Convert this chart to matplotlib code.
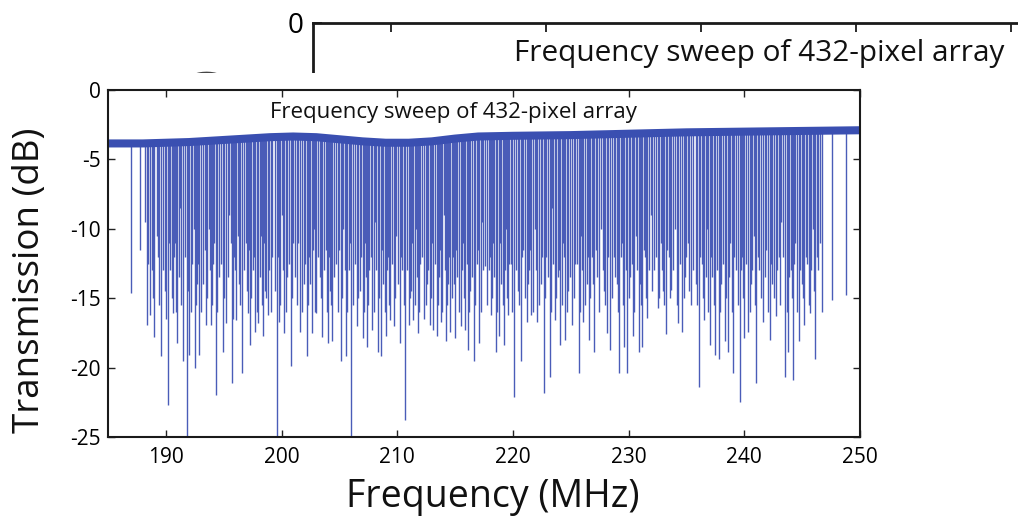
import numpy as np
import matplotlib.pyplot as plt
from matplotlib.patches import Rectangle

plt.rcParams['font.family'] = ['Open Sans', 'DejaVu Sans']
plt.rcParams['axes.unicode_minus'] = False

title = 'Frequency sweep of 432-pixel array'
xticks = [190, 200, 210, 220, 230, 240, 250]
yticks = [0, -5, -10, -15, -20, -25]

# off-resonance transmission level (centre of the noisy band)
base_freq = [185, 188, 192, 196, 199, 201, 203, 205, 207, 209, 211, 213, 215, 217, 220, 225, 230, 235, 240, 245, 250]
base_db = [-3.85, -3.85, -3.75, -3.55, -3.4, -3.35, -3.4, -3.55, -3.7, -3.8, -3.8, -3.7, -3.5, -3.35,
           -3.3, -3.25, -3.15, -3.05, -3.0, -2.95, -2.9]

# deeper resonance dips (MHz, dB at the bottom of each dip)
dip_freq = [187.0, 187.8, 188.2, 188.4, 188.6, 188.8, 189.0, 189.3, 189.6, 189.9,
            190.2, 190.4, 190.6, 190.8, 191.0, 191.2, 191.5, 191.8, 192.0, 192.3,
            192.5, 192.7, 192.9, 193.2, 193.5, 193.7, 193.9, 194.1, 194.3, 194.6,
            194.9, 195.2, 195.5, 195.7, 195.9, 196.1, 196.3, 196.6, 196.9, 197.1,
            197.3, 197.5, 197.7, 198.0, 198.2, 198.4, 198.6, 198.8, 199.2, 199.6,
            199.8, 200.0, 200.2, 200.5, 200.8, 201.0, 201.3, 201.6, 201.9, 202.2,
            202.4, 202.6, 202.8, 203.0, 203.3, 203.5, 203.8, 204.0, 204.2, 204.4,
            204.7, 205.1, 205.3, 205.6, 205.8, 206.0, 206.5, 206.8, 207.0, 207.2,
            207.4, 207.6, 207.8, 208.1, 208.3, 208.6, 208.8, 209.0, 209.2, 209.4,
            209.7, 209.9, 210.2, 210.4, 210.7, 211.0, 211.2, 211.4, 211.6, 211.8,
            212.0, 212.3, 212.6, 212.8, 213.0, 213.1, 213.4, 213.6, 213.8, 214.0,
            214.2, 214.4, 214.6, 214.8, 215.0, 215.2, 215.5, 215.7, 215.9, 216.1,
            216.3, 216.6, 216.9, 217.1, 217.3, 217.6, 217.9, 218.1, 218.3, 218.5,
            218.8, 219.0, 219.2, 219.4, 219.6, 219.8, 220.1, 220.4, 220.7, 220.9,
            221.2, 221.4, 221.6, 221.9, 222.1, 222.4, 222.7, 222.9, 223.2, 223.4,
            223.6, 223.9, 224.1, 224.3, 224.5, 224.8, 225.1, 225.4, 225.7, 225.9,
            226.1, 226.4, 226.6, 226.8, 227.0, 227.3, 227.6, 227.9, 228.1, 228.4,
            228.7, 229.0, 229.2, 229.4, 229.6, 229.9, 230.1, 230.4, 230.6, 230.9,
            231.0, 231.2, 231.4, 231.6, 231.9, 232.2, 232.5, 232.8, 233.0, 233.2,
            233.5, 233.7, 234.0, 234.3, 234.6, 234.9, 235.1, 235.4, 235.8, 236.1,
            236.3, 236.5, 236.8, 237.0, 237.2, 237.5, 237.8, 238.0, 238.3, 238.6,
            238.8, 239.0, 239.3, 239.6, 239.8, 240.0, 240.3, 240.6, 240.8, 241.0,
            241.3, 241.6, 241.9, 242.2, 242.4, 242.7, 243.0, 243.2, 243.5, 243.8,
            244.0, 244.2, 244.4, 244.7, 245.0, 245.2, 245.4, 245.7, 245.9, 246.1,
            246.4, 246.7, 247.6, 248.8]
dip_db = [-14.6, -11.5, -9.5, -16.9, -16.2, -13.0, -17.8, -12.0, -19.2, -14.5,
          -22.7, -13.0, -16.1, -11.0, -18.2, -8.5, -19.5, -25.0, -19.1, -12.5,
          -20.0, -14.0, -19.1, -14.0, -16.9, -10.0, -16.9, -12.5, -22.0, -13.5,
          -18.9, -16.8, -9.0, -21.1, -12.0, -16.6, -14.0, -20.4, -11.0, -16.1,
          -18.4, -13.0, -17.4, -16.8, -10.5, -17.7, -14.5, -16.2, -12.0, -25.0,
          -16.7, -9.0, -17.5, -13.5, -19.9, -11.0, -15.5, -17.4, -14.0, -19.2,
          -12.0, -17.5, -10.0, -16.1, -13.5, -17.8, -11.5, -18.2, -14.5, -18.1,
          -12.5, -19.5, -10.0, -19.2, -13.0, -25.0, -17.0, -14.5, -17.9, -11.0,
          -18.5, -13.0, -17.3, -9.5, -18.9, -19.2, -14.0, -17.7, -12.0, -16.6,
          -17.0, -10.5, -18.2, -13.0, -23.8, -16.9, -14.5, -16.6, -10.0, -17.5,
          -12.5, -16.5, -14.0, -16.9, -11.0, -17.3, -17.7, -13.5, -16.7, -9.0,
          -18.1, -14.0, -17.4, -12.0, -17.9, -13.5, -17.0, -11.0, -17.3, -18.7,
          -14.5, -19.5, -12.5, -18.2, -9.5, -12.7, -13.0, -16.2, -11.0, -18.9,
          -17.7, -14.0, -18.4, -10.0, -16.2, -12.5, -22.1, -14.5, -19.5, -11.5,
          -16.7, -13.0, -16.2, -10.0, -16.7, -14.0, -21.8, -12.0, -20.7, -8.5,
          -16.6, -13.5, -18.4, -11.0, -18.0, -14.5, -16.9, -12.5, -20.4, -10.5,
          -16.7, -14.0, -18.0, -12.0, -18.9, -13.5, -10.0, -14.5, -17.5, -18.7,
          -12.0, -14.0, -20.4, -11.0, -18.5, -20.4, -13.5, -17.7, -10.5, -18.9,
          -14.0, -18.5, -12.0, -16.4, -9.0, -13.0, -15.7, -11.0, -14.5, -17.6,
          -12.0, -14.4, -10.0, -16.8, -17.4, -13.5, -11.0, -15.5, -14.0, -21.4,
          -12.5, -16.6, -10.0, -18.4, -13.5, -19.1, -19.4, -14.0, -18.1, -18.9,
          -11.0, -20.4, -13.0, -22.5, -12.0, -17.9, -17.4, -14.0, -10.5, -21.1,
          -13.0, -16.7, -11.5, -18.0, -14.0, -16.3, -12.0, -9.5, -20.7, -18.9,
          -13.0, -20.9, -11.0, -18.1, -14.0, -16.9, -12.5, -16.1, -10.0, -19.4,
          -13.0, -16.0, -15.1, -14.8]

# shallower dips filling the dense band between -8 and -16 dB
fill_freq = [188.5, 188.9, 189.2, 189.45, 189.75, 190.05, 190.3, 190.5, 190.7, 190.9,
             191.1, 191.35, 191.65, 191.9, 192.15, 192.4, 192.6, 192.8, 193.05, 193.35,
             193.6, 193.8, 194.0, 194.2, 194.45, 194.75, 195.05, 195.35, 195.6, 195.8,
             196.0, 196.2, 196.45, 196.75, 197.0, 197.2, 197.4, 197.6, 197.85, 198.1,
             198.3, 198.5, 198.7, 198.95, 199.1, 199.4, 199.7, 199.9, 200.1, 200.35,
             200.65, 200.9, 201.15, 201.45, 201.75, 202.05, 202.3, 202.5, 202.7, 202.9,
             203.15, 203.4, 203.65, 203.9, 204.1, 204.3, 204.55, 204.85, 205.0, 205.2,
             205.45, 205.7, 205.9, 206.2, 206.35, 206.65, 206.9, 207.1, 207.3, 207.5,
             207.7, 207.95, 208.2, 208.45, 208.7, 208.9, 209.1, 209.3, 209.55, 209.8,
             210.05, 210.3, 210.55, 210.85, 211.1, 211.3, 211.5, 211.7, 211.9, 212.15,
             212.45, 212.7, 212.9, 213.25, 213.5, 213.7, 213.9, 214.1, 214.3, 214.5,
             214.7, 214.9, 215.1, 215.35, 215.6, 215.8, 216.0, 216.2, 216.45, 216.75,
             217.0, 217.2, 217.45, 217.75, 218.0, 218.2, 218.4, 218.65, 218.9, 219.1,
             219.3, 219.5, 219.7, 219.95, 220.25, 220.55, 220.8, 221.05, 221.3, 221.5,
             221.75, 222.0, 222.25, 222.55, 222.8, 223.05, 223.3, 223.5, 223.75, 224.0,
             224.2, 224.4, 224.65, 224.95, 225.25, 225.55, 225.8, 226.0, 226.25, 226.5,
             226.7, 226.9, 227.15, 227.45, 227.75, 228.0, 228.25, 228.55, 228.85, 229.1,
             229.3, 229.5, 229.75, 230.0, 230.25, 230.5, 230.75, 231.1, 231.3, 231.5,
             231.75, 232.05, 232.35, 232.65, 232.9, 233.1, 233.35, 233.6, 233.85, 234.15,
             234.45, 234.75, 235.0, 235.25, 235.6, 235.95, 236.2, 236.4, 236.65, 236.9,
             237.1, 237.35, 237.65, 237.9, 238.15, 238.45, 238.7, 238.9, 239.15, 239.45,
             239.7, 239.9, 240.15, 240.45, 240.7, 240.9, 241.15, 241.45, 241.75, 242.05,
             242.3, 242.55, 242.85, 243.1, 243.35, 243.65, 243.9, 244.1, 244.3, 244.55,
             244.85, 245.1, 245.3, 245.55, 245.8, 246.0, 246.25, 246.55]
fill_db = [-12.5, -15.0, -10.5, -15.5, -13.0, -16.5, -11.0, -15.0, -12.0, -16.0,
           -13.5, -15.5, -12.0, -14.5, -16.0, -10.0, -15.5, -12.5, -16.0, -11.5,
           -15.0, -13.0, -15.5, -11.0, -16.0, -12.5, -15.0, -13.5, -11.0, -16.5,
           -13.0, -10.5, -15.5, -13.0, -14.5, -11.5, -15.0, -12.0, -16.0, -13.5,
           -15.5, -11.0, -15.0, -13.0, -16.0, -14.5, -12.0, -15.5, -13.0, -16.0,
           -12.5, -15.0, -13.5, -11.0, -16.0, -12.5, -15.5, -14.0, -11.5, -16.0,
           -12.0, -15.0, -13.0, -16.0, -12.0, -15.5, -13.5, -16.0, -11.5, -15.0,
           -13.0, -16.0, -11.0, -15.5, -12.5, -15.0, -12.0, -16.0, -13.5, -15.5,
           -12.0, -16.0, -13.0, -15.0, -11.5, -16.0, -13.0, -15.5, -12.5, -15.0,
           -14.0, -12.0, -15.5, -13.0, -15.0, -11.0, -15.5, -13.5, -16.0, -12.0,
           -15.5, -13.0, -15.0, -12.5, -15.5, -11.5, -16.0, -13.0, -15.5, -12.0,
           -15.0, -14.0, -11.5, -16.0, -13.0, -15.0, -12.5, -16.0, -13.5, -15.5,
           -11.5, -16.0, -13.0, -15.5, -12.0, -15.0, -13.5, -16.0, -11.0, -15.5,
           -13.0, -15.0, -12.5, -16.0, -13.0, -15.5, -12.0, -15.0, -14.0, -11.5,
           -16.0, -13.0, -15.5, -12.0, -15.0, -13.5, -16.0, -12.5, -15.0, -13.0,
           -15.5, -12.0, -16.0, -13.5, -15.0, -12.5, -16.0, -13.0, -15.5, -12.0,
           -15.0, -14.0, -11.5, -16.0, -13.0, -15.5, -12.0, -15.0, -13.5, -16.0,
           -12.0, -15.5, -13.0, -15.0, -12.5, -16.0, -13.0, -15.5, -11.5, -15.0,
           -13.0, -14.5, -12.0, -15.0, -13.0, -15.5, -11.5, -15.0, -13.0, -15.5,
           -12.5, -15.0, -12.0, -14.5, -13.0, -15.5, -12.0, -15.0, -13.5, -16.0,
           -12.0, -15.5, -13.0, -16.0, -12.5, -15.0, -13.5, -16.0, -12.0, -15.5,
           -13.0, -15.0, -12.5, -16.0, -13.0, -15.5, -12.0, -15.0, -13.5, -16.0,
           -12.5, -15.0, -13.0, -15.5, -12.0, -16.0, -13.5, -15.0, -12.5, -16.0,
           -13.0, -15.0, -12.0, -15.5, -13.0, -14.5, -12.0, -11.0]

W, H = 1018, 523
fig = plt.figure(figsize=(W / 100, H / 100), dpi=100)


def panel(ax, s, title_x, ylab_y, full=True):
    for f, d in [(fill_freq, fill_db), (dip_freq, dip_db)]:
        top = np.interp(f, base_freq, base_db)
        ax.vlines(f, d, top, color='#4a5cb8', lw=1.0 * s)
    ax.plot(base_freq, base_db, color='#3a4fb1', lw=5.8 * s, solid_capstyle='butt')
    ax.set_xlim(185, 250)
    ax.set_ylim(-25, 0)
    ax.set_xticks(xticks)
    ax.set_yticks(yticks)
    ax.set_xticklabels([str(t) for t in xticks])
    if full:
        ax.set_yticklabels([str(t) for t in yticks])
    else:
        ax.set_yticklabels([str(t) if t == 0 else '' for t in yticks])
    ax.tick_params(direction='in', top=True, right=True, length=5 * s, width=1.0 * s,
                   labelsize=15 * s, color='#222222', labelbottom=full)
    ax.tick_params(axis='x', pad=7 * s)
    ax.tick_params(axis='y', pad=5 * s)
    for sp in ax.spines.values():
        sp.set_linewidth(1.5 * s)
        sp.set_color('#1a1a1a')
    ax.text(title_x, 0.934, title, transform=ax.transAxes, fontsize=16 * s,
            ha='left', va='center', color='#111111')
    ax.text(-0.104, ylab_y, 'Transmission (dB)', transform=ax.transAxes, rotation=90,
            fontsize=26.5 * s, ha='center', va='center', clip_on=False,
            color='#111111' if full else '#444444')
    if full:
        ax.text(0.511, -0.173, 'Frequency (MHz)', transform=ax.transAxes,
                fontsize=27 * s, ha='center', va='center', clip_on=False, color='#111111')


# enlarged copy of the same figure peeking out behind the main one
s_bg = 1.34
ax_bg = fig.add_axes([313 / W, (H - 22.7 - 347 * s_bg) / H, 752 * s_bg / W, 347 * s_bg / H])
ax_bg.set_zorder(0)
panel(ax_bg, s_bg, 0.1995, 0.461, full=False)

cover = Rectangle((0, 0), 1, (H - 73) / H, transform=fig.transFigure,
                  facecolor='white', edgecolor='none', zorder=1)
fig.add_artist(cover)

ax = fig.add_axes([108 / W, (H - 437) / H, 752 / W, 347 / H])
ax.set_zorder(2)
panel(ax, 1.0, 0.215, 0.452)

fig.savefig('out.png', dpi=100)
